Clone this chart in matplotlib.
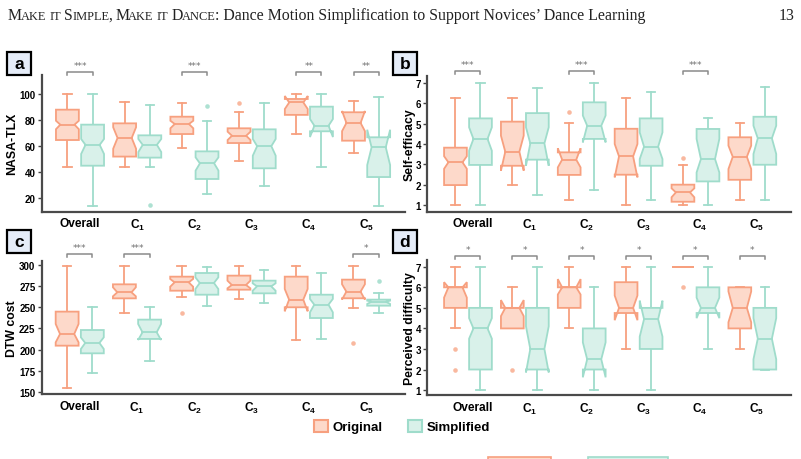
import matplotlib
matplotlib.use('Agg')
import matplotlib.pyplot as plt
from matplotlib.patches import Rectangle, Patch

plt.rcParams['font.family'] = ['Liberation Sans', 'DejaVu Sans']
plt.rcParams['mathtext.fontset'] = 'custom'
plt.rcParams['mathtext.rm'] = 'Liberation Sans:bold'
plt.rcParams['mathtext.bf'] = 'Liberation Sans:bold'
plt.rcParams['mathtext.it'] = 'Liberation Sans:bold'

groups = ['Overall', r'$\mathbf{C_1}$', r'$\mathbf{C_2}$', r'$\mathbf{C_3}$',
          r'$\mathbf{C_4}$', r'$\mathbf{C_5}$']

# each row: (whislo, q1, cilo, med, cihi, q3, whishi)
nasa_orig = [(44, 64.7, 73, 76.5, 79.5, 88, 100),
             (44, 52, 58, 66.3, 74.5, 77.5, 94),
             (58.3, 69.3, 73.7, 77, 79.5, 82.6, 92.8),
             (48.9, 62.4, 64.7, 68, 71.1, 73.7, 86.5),
             (69.3, 84, 88.5, 93.5, 98.5, 96.2, 100),
             (54.5, 64.2, 71.5, 77.8, 87, 86, 94.6)]
nasa_simp = [(14.4, 45, 54, 61, 65.5, 76.5, 100),
             (44, 51.2, 55.5, 61, 65.5, 68.3, 91.8),
             (23.3, 34.8, 41.2, 46.8, 51.4, 56, 79.5),
             (29.4, 43, 52.7, 60, 65.5, 72.9, 93.4),
             (44, 71.4, 67, 75.7, 80.8, 90.3, 100),
             (14.4, 36.3, 45.5, 59.1, 72.6, 66.8, 98)]
nasa_orig_fliers = [[], [], [], [92.8], [], []]
nasa_simp_fliers = [[], [15.1], [90.8], [], [], []]

self_orig = [(1.0, 1.98, 2.78, 3.1, 3.4, 3.82, 6.26),
             (1.98, 2.93, 2.69, 3.62, 4.41, 5.1, 6.26),
             (1.25, 2.48, 2.85, 3.23, 3.79, 3.59, 5.02),
             (1.0, 2.49, 2.36, 3.39, 4.0, 4.75, 6.26),
             (1.0, 1.16, 1.38, 1.62, 1.82, 2.0, 2.99),
             (1.25, 2.24, 2.77, 3.37, 3.92, 4.33, 5.02)]
self_simp = [(1.0, 2.97, 3.67, 4.25, 4.82, 5.26, 7.0),
             (1.49, 3.23, 2.93, 4.03, 4.82, 5.52, 6.77),
             (1.74, 4.25, 4.08, 4.9, 5.4, 6.05, 7.0),
             (1.25, 2.93, 3.26, 3.87, 4.57, 5.26, 6.54),
             (1.0, 2.16, 2.6, 3.26, 4.25, 4.74, 5.26),
             (1.25, 2.98, 3.51, 4.28, 4.9, 5.34, 6.79)]
self_orig_fliers = [[], [], [5.56], [], [3.3], []]
self_simp_fliers = [[], [], [], [], [], []]

dtw_orig = [(154.7, 204.8, 208.7, 218.5, 230.3, 244.8, 298.8),
            (243.2, 260.4, 262.8, 267.5, 273.4, 276.9, 298.8),
            (262.4, 269.4, 274.1, 279.2, 283.2, 285.9, 298.8),
            (259.7, 270.6, 272.2, 276.1, 281.2, 287.1, 298.8),
            (211.5, 249.9, 245.2, 258.9, 271.4, 285.9, 298.8),
            (249.1, 260.5, 259, 268.3, 277, 282.4, 298.8)]
dtw_simp = [(172.3, 195.8, 200.9, 208, 214.6, 223.2, 250.6),
            (186.4, 212.7, 211.5, 220.5, 230.3, 235.4, 250.6),
            (251.8, 264.7, 271.4, 278.5, 285.1, 290.2, 296.9),
            (254.6, 266.3, 269.4, 274.5, 278.1, 281.2, 294.1),
            (212.7, 237.3, 244, 253, 259.7, 264.7, 290.2),
            (242.8, 251.8, 253.8, 256.5, 257.7, 258.9, 266.3)]
dtw_orig_fliers = [[], [], [243.2], [], [], [208]]
dtw_simp_fliers = [[], [], [], [], [], [281.2]]

diff_orig = [(4, 5, 5.5, 6, 6.25, 6, 7),
             (4, 4, 4.6, 5, 5.38, 5, 6),
             (4, 5, 5.65, 6, 6.4, 6, 7),
             (3, 4.75, 4.4, 5, 5.6, 6.25, 7),
             (7, 7, 7, 7, 7, 7, 7),
             (3, 4, 4.3, 5, 5.8, 6, 6)]
diff_simp = [(1, 2, 3.5, 4, 4.5, 5, 7),
             (1, 2, 1.86, 3, 4.1, 5, 7),
             (1, 2, 1.62, 2.5, 3.32, 4, 6),
             (1, 3, 3.6, 4.45, 5.35, 5, 7),
             (3, 4.75, 4.5, 5, 5.5, 6, 7),
             (2, 2, 2.5, 3.5, 4.5, 5, 6)]
diff_orig_fliers = [[3, 2], [2], [], [], [6], []]
diff_simp_fliers = [[], [], [], [], [], []]

# significance marks per group
nasa_sig = ['***', '', '***', '', '**', '**']
self_sig = ['***', '', '***', '', '***', '']
dtw_sig = ['***', '***', '', '', '', '*']
diff_sig = ['*', '*', '*', '*', '*', '*']

ORANGE = '#f7a07f'
ORANGE_FILL = '#fdd9ca'
TEAL = '#9fdccb'
TEAL_FILL = '#d9f1ea'

W, H = 801, 460


def draw_box(ax, pos, st, edge, fill, width=0.40):
    lo, q1, cilo, med, cihi, q3, hi = st
    hw = width / 2
    nw = hw * 0.62
    xs = [pos - hw, pos + hw, pos + hw, pos + nw, pos + hw, pos + hw,
          pos - hw, pos - hw, pos - nw, pos - hw, pos - hw]
    ys = [q1, q1, cilo, med, cihi, q3, q3, cihi, med, cilo, q1]
    ax.fill(xs, ys, facecolor=fill, edgecolor=edge, lw=1.3, zorder=2)
    ax.plot([pos - nw, pos + nw], [med, med], color=edge, lw=1.3, zorder=3)
    cw = 0.075
    ax.plot([pos, pos], [lo, q1], color=edge, lw=1.3, zorder=1)
    ax.plot([pos, pos], [q3, hi], color=edge, lw=1.3, zorder=1)
    ax.plot([pos - cw, pos + cw], [lo, lo], color=edge, lw=1.3, zorder=1)
    ax.plot([pos - cw, pos + cw], [hi, hi], color=edge, lw=1.3, zorder=1)


def draw_panel(ax, orig, simp, orig_fl, simp_fl, sig, ylim, yticks, ylabel,
               xlim, label_shift, brk_y, star_y, labelx):
    off = 0.22
    for i in range(len(groups)):
        draw_box(ax, i - off, orig[i], ORANGE, ORANGE_FILL)
        draw_box(ax, i + off, simp[i], TEAL, TEAL_FILL)
        if orig_fl[i]:
            ax.plot([i - off] * len(orig_fl[i]), orig_fl[i], 'o', ms=3.3,
                    color=ORANGE, alpha=0.75, mew=0)
        if simp_fl[i]:
            ax.plot([i + off] * len(simp_fl[i]), simp_fl[i], 'o', ms=3.3,
                    color=TEAL, alpha=0.85, mew=0)
        if sig[i]:
            tr = ax.get_xaxis_transform()
            ax.plot([i - off, i - off, i + off, i + off],
                    [brk_y - 0.022, brk_y, brk_y, brk_y - 0.022],
                    color='#8a8a8a', lw=1.1, transform=tr, clip_on=False)
            ax.text(i, star_y, sig[i], transform=tr, ha='center', va='center',
                    fontsize=6.5, color='#707070', family='DejaVu Sans')
    ax.set_xlim(*xlim)
    ax.set_ylim(*ylim)
    ax.set_yticks(yticks)
    ax.set_xticks([i + label_shift for i in range(len(groups))])
    ax.set_xticklabels(groups, fontsize=8.6, fontweight='bold')
    for lbl in ax.get_yticklabels():
        lbl.set_fontweight('bold')
        lbl.set_fontsize(7)
    ax.tick_params(axis='x', length=0, pad=4)
    ax.tick_params(axis='y', length=3, width=1, color='#444444', pad=1.5)
    for s in ['top', 'right']:
        ax.spines[s].set_visible(False)
    for s in ['left', 'bottom']:
        ax.spines[s].set_color('#4a4a4a')
        ax.spines[s].set_linewidth(1.6)
    ax.set_ylabel(ylabel, fontsize=8.8, fontweight='bold')
    ax.yaxis.set_label_coords(labelx, 0.5)


def panel_tag(fig, x0, y0, letter):
    fig.patches.append(Rectangle((x0 / W, 1 - (y0 + 23) / H), 24 / W, 23 / H,
                                 transform=fig.transFigure, facecolor='#e5ecf8',
                                 edgecolor='black', lw=1.6))
    fig.text((x0 + 12) / W, 1 - (y0 + 11.5) / H, letter, ha='center', va='center',
             fontsize=12.5, fontweight='bold')


def small_caps(fig, x, y, pieces, size):
    r = fig.canvas.get_renderer()
    probe = fig.text(0, 0, 'x x', fontsize=size, family='Liberation Serif')
    probe2 = fig.text(0, 0, 'xx', fontsize=size, family='Liberation Serif')
    space = probe.get_window_extent(r).width - probe2.get_window_extent(r).width
    probe.remove()
    probe2.remove()
    for txt, small in pieces:
        if txt == ' ':
            x += space
            continue
        t = fig.text(x / W, 1 - y / H, txt, fontsize=size * 0.78 if small else size,
                     family='Liberation Serif', va='baseline', ha='left', color='#222222')
        x += t.get_window_extent(r).width - 0.9


fig = plt.figure(figsize=(W / 100, H / 100), dpi=100)

ax_a = fig.add_axes([42 / W, 1 - 212.7 / H, 363 / W, 136.7 / H])
ax_b = fig.add_axes([427.3 / W, 1 - 212.7 / H, 363.7 / W, 136 / H])
ax_c = fig.add_axes([41.7 / W, 1 - 395 / H, 363.3 / W, 133 / H])
ax_d = fig.add_axes([427.3 / W, 1 - 396 / H, 363.7 / W, 135 / H])

draw_panel(ax_a, nasa_orig, nasa_simp, nasa_orig_fliers, nasa_simp_fliers, nasa_sig,
           (9.7, 114.6), [20, 40, 60, 80, 100], 'NASA-TLX', (-0.664, 5.68), 0.0,
           1.024, 1.073, -0.066)
draw_panel(ax_b, self_orig, self_simp, self_orig_fliers, self_simp_fliers, self_sig,
           (0.67, 7.36), [1, 2, 3, 4, 5, 6, 7], 'Self-efficacy', (-0.715, 5.68), 0.08,
           1.032, 1.079, -0.031)
draw_panel(ax_c, dtw_orig, dtw_simp, dtw_orig_fliers, dtw_simp_fliers, dtw_sig,
           (148, 304.3), [150, 175, 200, 225, 250, 275, 300], 'DTW cost', (-0.664, 5.68), 0.0,
           1.049, 1.098, -0.064)
draw_panel(ax_d, diff_orig, diff_simp, diff_orig_fliers, diff_simp_fliers, diff_sig,
           (0.76, 7.33), [1, 2, 3, 4, 5, 6, 7], 'Perceived difficulty', (-0.715, 5.68), 0.08,
           1.032, 1.081, -0.031)

panel_tag(fig, 7, 53, 'a')
panel_tag(fig, 393, 53, 'b')
panel_tag(fig, 7, 231, 'c')
panel_tag(fig, 393, 231, 'd')

handles = [Patch(facecolor=ORANGE_FILL, edgecolor=ORANGE, lw=1.5, label='Original'),
           Patch(facecolor=TEAL_FILL, edgecolor=TEAL, lw=1.5, label='Simplified')]
fig.legend(handles=handles, loc='center', bbox_to_anchor=(401.8 / W, 1 - 427.5 / H),
           ncol=2, frameon=False, prop={'weight': 'bold', 'size': 9.5},
           handlelength=1.05, handleheight=1.1, handletextpad=0.35, columnspacing=1.9)

# running page header
header = [('M', False), ('AKE', True), (' ', False), ('IT', True), (' ', False),
          ('S', False), ('IMPLE', True), (',', False), (' ', False),
          ('M', False), ('AKE', True), (' ', False), ('IT', True), (' ', False),
          ('D', False), ('ANCE', True),
          (': Dance Motion Simplification to Support Novices\u2019 Dance Learning', False)]
small_caps(fig, 8, 20, header, 11.4)
fig.text(794 / W, 1 - 20 / H, '13', ha='right', va='baseline', fontsize=11.4,
         family='Liberation Serif', color='#222222')

# edges of the next figure on the page, cut off at the bottom
fig.patches.append(Rectangle((488 / W, -0.05), 63 / W, 0.05 + 2.3 / H,
                             transform=fig.transFigure, facecolor=ORANGE_FILL,
                             edgecolor=ORANGE, lw=1.2))
fig.patches.append(Rectangle((588 / W, -0.05), 80 / W, 0.05 + 2.3 / H,
                             transform=fig.transFigure, facecolor=TEAL_FILL,
                             edgecolor=TEAL, lw=1.2))

fig.savefig('out.png', dpi=100)
